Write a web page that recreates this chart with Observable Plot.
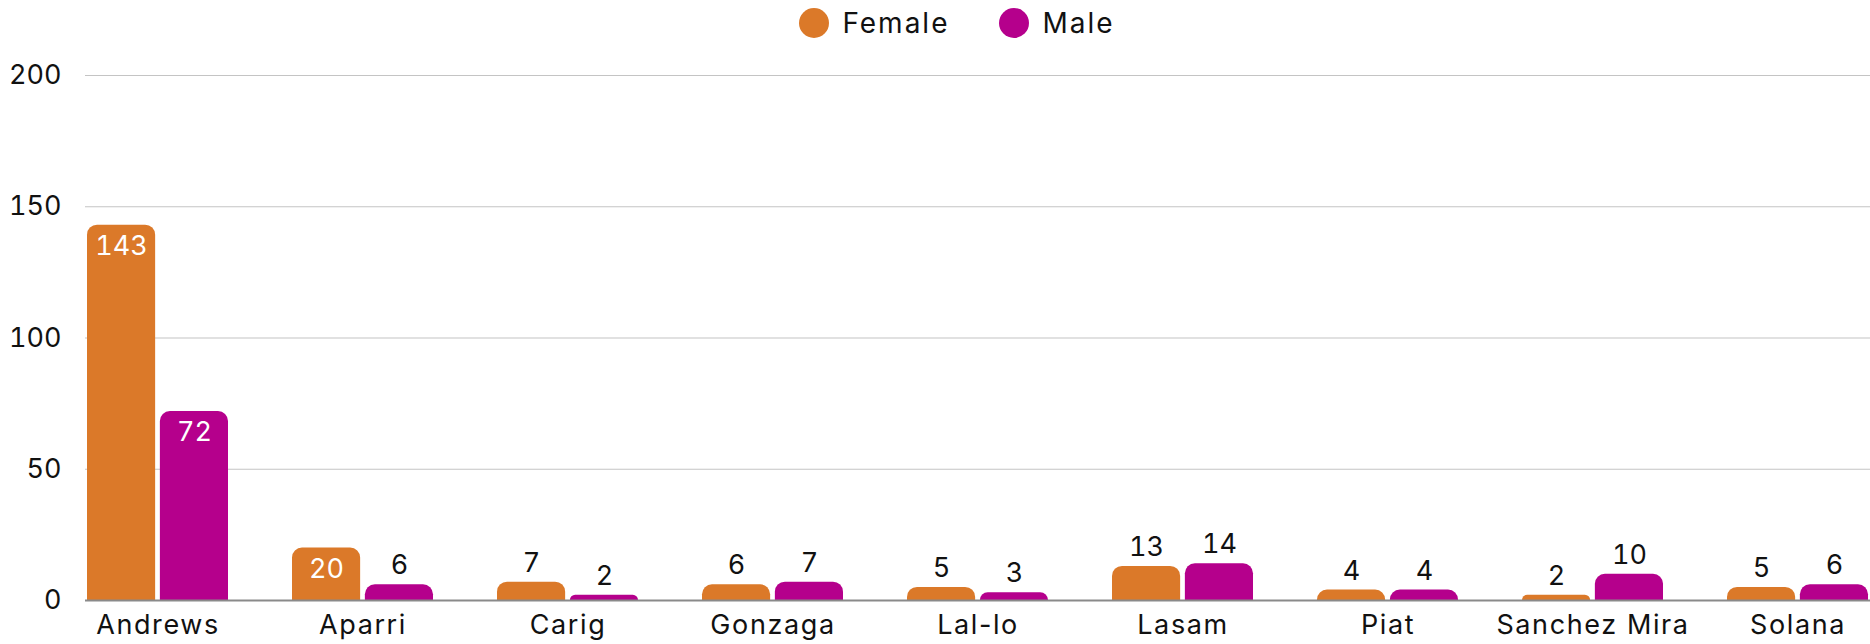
<!DOCTYPE html>
<html>
<head>
<meta charset="utf-8">
<script src="https://cdn.jsdelivr.net/npm/d3@7"></script>
<script src="https://cdn.jsdelivr.net/npm/@observablehq/plot@0.6"></script>
<style>
  html, body { margin: 0; padding: 0; background: #fff; }
  body { font-family: Inter, "Open Sans", sans-serif; color: #111; width: 1870px; }
  #legend { height: 46px; display: flex; justify-content: center; align-items: center; gap: 50px; font-size: 28px; letter-spacing: 2px; padding-left: 44px; }
  .item { display: flex; align-items: center; gap: 13px; }
  .sw { width: 30px; height: 30px; border-radius: 50%; display: inline-block; }
  #chart svg g[aria-label="x-axis tick label"] text { letter-spacing: 1.6px; }
</style>
</head>
<body>
<div id="legend"></div>
<div id="chart"></div>
<script>
const categories = ["Andrews", "Aparri", "Carig", "Gonzaga", "Lal-lo", "Lasam", "Piat", "Sanchez Mira", "Solana"];
const series = ["Female", "Male"];
const female = [143, 20, 7, 6, 5, 13, 4, 2, 5];
const male = [72, 6, 2, 7, 3, 14, 4, 10, 6];
const yTicks = [0, 50, 100, 150, 200];
const colors = ["#DB7929", "#B5008C"];

const rowsF = categories.map((c, i) => ({category: c, sex: "Female", value: female[i]}));
const rowsM = categories.map((c, i) => ({category: c, sex: "Male", value: male[i]}));

const legend = document.getElementById("legend");
series.forEach((s, i) => {
  const it = document.createElement("div");
  it.className = "item";
  it.innerHTML = `<span class="sw" style="background:${colors[i]}"></span><span>${s}</span>`;
  legend.appendChild(it);
});

// layout (pixels)
const W = 1870, ML = 85, MR = 0;
const padIn = 0.31;
const step = (W - ML - MR) / (categories.length - padIn);
const bw = step * (1 - padIn);
const gap = 4;
const half = bw / 2 + gap / 2;
const off = (bw / 2 - gap / 2) / 2 + gap / 2;

function barLabels(rows, dx) {
  return [
    Plot.text(rows.filter(d => d.value >= 20), {x: "category", y: "value", text: "value", dx, dy: 21, fill: "#fff", fontSize: 27}),
    Plot.text(rows.filter(d => d.value < 20), {x: "category", y: "value", text: "value", dx, dy: -19, fill: "#111", fontSize: 27})
  ];
}

const chart = Plot.plot({
  width: W,
  height: 598,
  marginTop: 29,
  marginBottom: 44,
  marginLeft: ML,
  marginRight: MR,
  style: {fontFamily: "Inter, 'Open Sans', sans-serif", fontSize: "27px", color: "#111", background: "#fff"},
  x: {domain: categories, paddingInner: padIn, paddingOuter: 0, label: null, tickSize: 0, tickPadding: 14},
  y: {domain: [0, 200], ticks: yTicks, label: null, tickSize: 0, tickPadding: 24},
  marks: [
    Plot.ruleY(yTicks.filter(t => t > 0), {stroke: "#c4c4c4", strokeWidth: 1.2}),
    Plot.barY(rowsF, {x: "category", y: "value", fill: colors[0], insetRight: half, ry1: 10}),
    Plot.barY(rowsM, {x: "category", y: "value", fill: colors[1], insetLeft: half, ry1: 10}),
    Plot.ruleY([0], {stroke: "#8a8a8a", strokeWidth: 2}),
    ...barLabels(rowsF, -off),
    ...barLabels(rowsM, off)
  ]
});
document.getElementById("chart").appendChild(chart);
</script>
</body>
</html>
